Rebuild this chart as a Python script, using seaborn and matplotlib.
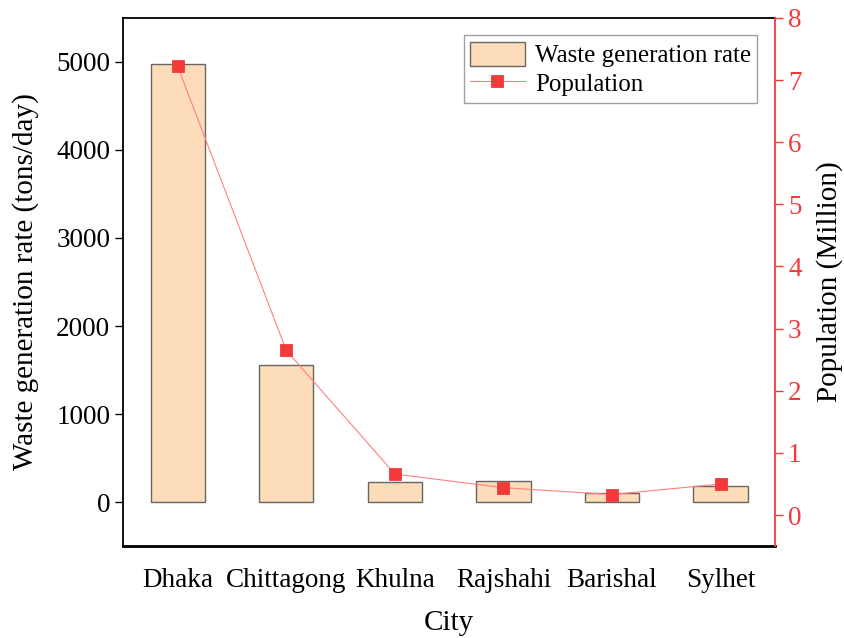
import pandas as pd
import matplotlib.pyplot as plt
import seaborn as sns

# data
cities = ['Dhaka', 'Chittagong', 'Khulna', 'Rajshahi', 'Barishal', 'Sylhet']
waste = [4975, 1560, 225, 242, 100, 182]          # tons/day
population = [7.22, 2.65, 0.66, 0.44, 0.33, 0.50]  # million

df = pd.DataFrame({'city': cities, 'waste': waste, 'population': population})

plt.rcParams['font.family'] = ['Liberation Serif', 'DejaVu Serif']
tick_size = 19.5
label_size = 21
red = '#F23A3A'

fig, ax = plt.subplots(figsize=(8.45, 6.38), dpi=100)
fig.subplots_adjust(left=0.146, right=0.917, top=0.972, bottom=0.144)

# bars
sns.barplot(data=df, x='city', y='waste', ax=ax, color='#FDDCB9',
            edgecolor='#666666', linewidth=1.0, width=0.5, saturation=1,
            label='Waste generation rate')
if ax.get_legend() is not None:
    ax.get_legend().remove()
ax.set_ylim(-500, 5500)
ax.set_yticks([0, 1000, 2000, 3000, 4000, 5000])
ax.set_xlim(-0.5, 5.5)
ax.set_xlabel('City', fontsize=label_size, labelpad=12)
ax.set_ylabel('Waste generation rate (tons/day)', fontsize=label_size, labelpad=12)
ax.tick_params(axis='y', labelsize=tick_size, direction='out', length=6, width=1)
ax.tick_params(axis='x', labelsize=tick_size, length=0, pad=16)
for s in ['left', 'top']:
    ax.spines[s].set_linewidth(1.3)
ax.spines['bottom'].set_linewidth(2)
ax.spines['right'].set_visible(False)

# population line on the right axis
ax2 = ax.twinx()
sns.pointplot(data=df, x='city', y='population', ax=ax2, color=red,
              markers='s', markersize=9, linewidth=0.8,
              label='Population')
for ln in ax2.lines:
    ln.set_color('#FF8080')
    ln.set_markeredgecolor(red)
    ln.set_markerfacecolor(red)
if ax2.get_legend() is not None:
    ax2.get_legend().remove()
ax2.set_ylim(-0.5, 8)
ax2.set_yticks(range(0, 9))
ax2.set_xlim(-0.5, 5.5)
ax2.set_ylabel('Population (Million)', fontsize=label_size, labelpad=10)
ax2.tick_params(axis='y', labelsize=tick_size, colors=red, direction='out',
                length=6, width=1)
ax2.spines['right'].set_color(red)
ax2.spines['right'].set_linewidth(1.3)
for s in ['left', 'top', 'bottom']:
    ax2.spines[s].set_visible(False)

h1, l1 = ax.get_legend_handles_labels()
h2, l2 = ax2.get_legend_handles_labels()
leg = ax2.legend(h1 + h2, l1 + l2, loc='upper right', fontsize=18,
                 frameon=True, fancybox=False, edgecolor='#888888',
                 borderaxespad=0.7, handlelength=2.2, handleheight=1.1,
                 labelspacing=0.15, borderpad=0.25, handletextpad=0.4)
leg.get_frame().set_linewidth(1.0)

plt.savefig('out.png', dpi=100)
